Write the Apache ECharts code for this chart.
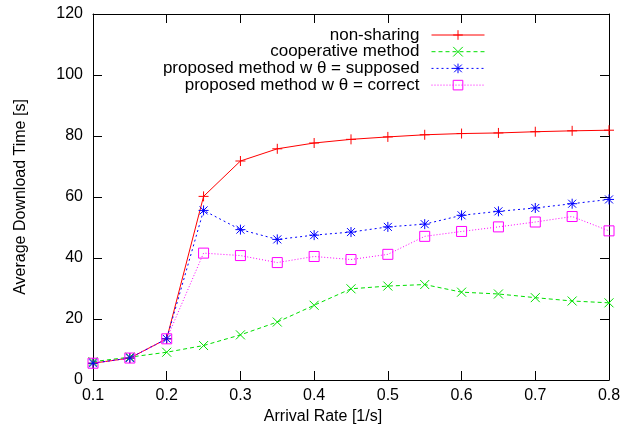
<!DOCTYPE html>
<html>
<head>
<meta charset="utf-8">
<script src="https://cdn.jsdelivr.net/npm/echarts@6/dist/echarts.min.js"></script>
<style>
html,body{margin:0;padding:0;background:#fff;}
#chart{width:638px;height:436px;}
</style>
</head>
<body>
<div id="chart"></div>
<script>
const arrivalRates = [0.1, 0.15, 0.2, 0.25, 0.3, 0.35, 0.4, 0.45, 0.5, 0.55, 0.6, 0.65, 0.7, 0.75, 0.8];
const nonSharing   = [5.5, 7.2, 13.5, 60.2, 71.8, 75.8, 77.7, 78.9, 79.7, 80.4, 80.8, 81.0, 81.4, 81.7, 81.9];
const cooperative  = [6.0, 7.5, 9.1, 11.3, 14.8, 19.0, 24.5, 29.9, 30.8, 31.3, 28.8, 28.2, 27.0, 25.9, 25.3];
const propSupposed = [5.5, 7.2, 13.5, 55.6, 49.3, 46.1, 47.5, 48.5, 50.2, 51.1, 54.0, 55.3, 56.4, 57.8, 59.2];
const propCorrect  = [5.5, 7.2, 13.5, 41.6, 40.8, 38.5, 40.5, 39.5, 41.2, 47.1, 48.7, 50.2, 51.8, 53.6, 48.9];
const seriesNames = ['non-sharing', 'cooperative method', 'proposed method w θ = supposed', 'proposed method w θ = correct'];
const yTicks = [0, 20, 40, 60, 80, 100, 120];
const xTicks = [0.1, 0.2, 0.3, 0.4, 0.5, 0.6, 0.7, 0.8];

const FONT = 'Liberation Sans, Arial, Helvetica, sans-serif';
const SYM_PLUS = 'path://M0,5L10,5M5,0L5,10';
const SYM_CROSS = 'path://M0,0L10,10M0,10L10,0';
const SYM_STAR = 'path://M0,5L10,5M5,0L5,10M1,1L9,9M1,9L9,1';
const SYM_SQUARE = 'path://M0,0L10,0L10,10L0,10Z';

function pairs(vals) { return arrivalRates.map((x, i) => [x, vals[i]]); }

function mkSeries(name, vals, color, symbol, size, dash) {
  return {
    name: name,
    type: 'line',
    data: pairs(vals),
    symbol: symbol,
    symbolSize: size,
    showAllSymbol: true,
    lineStyle: { color: color, width: 1, type: dash },
    itemStyle: { color: symbol === SYM_SQUARE ? 'rgba(0,0,0,0)' : color, borderColor: color, borderWidth: 1 },
    emphasis: { disabled: true },
    z: 2
  };
}

const axisCommon = {
  type: 'value',
  axisLine: { show: true, onZero: false, lineStyle: { color: '#000', width: 1 } },
  axisTick: { show: true, inside: true, length: 9, lineStyle: { color: '#000', width: 1 } },
  splitLine: { show: false }
};

const chart = echarts.init(document.getElementById('chart'), null, { renderer: 'canvas' });
chart.setOption({
  animation: false,
  backgroundColor: '#fff',
  textStyle: { fontFamily: FONT },
  grid: { left: 93, right: 29, top: 14, bottom: 56, containLabel: false },
  xAxis: [
    Object.assign({}, axisCommon, {
      position: 'bottom', min: xTicks[0], max: xTicks[xTicks.length - 1], interval: 0.1,
      name: 'Arrival Rate [1/s]', nameLocation: 'middle', nameGap: 28,
      nameTextStyle: { fontFamily: FONT, fontSize: 16, color: '#000', padding: [0, 56, 0, 0] },
      axisLabel: { fontFamily: FONT, fontSize: 16, color: '#000', margin: 8,
        formatter: v => v.toFixed(1) }
    }),
    Object.assign({}, axisCommon, {
      position: 'top', min: xTicks[0], max: xTicks[xTicks.length - 1], interval: 0.1,
      axisLabel: { show: false }
    })
  ],
  yAxis: [
    Object.assign({}, axisCommon, {
      position: 'left', min: yTicks[0], max: yTicks[yTicks.length - 1], interval: 20,
      name: 'Average Download Time [s]', nameLocation: 'middle', nameGap: 64, nameRotate: 90,
      nameTextStyle: { fontFamily: FONT, fontSize: 16, color: '#000' },
      axisLabel: { fontFamily: FONT, fontSize: 16, color: '#000', margin: 10 }
    }),
    Object.assign({}, axisCommon, {
      position: 'right', min: yTicks[0], max: yTicks[yTicks.length - 1], interval: 20,
      axisLabel: { show: false }
    })
  ],
  legend: {
    orient: 'vertical',
    align: 'right',
    right: 153,
    top: 26.5,
    padding: 0,
    itemWidth: 53,
    itemHeight: 12,
    itemGap: -0.3,
    selectedMode: false,
    textStyle: { fontFamily: FONT, fontSize: 17, color: '#000', lineHeight: 12, padding: [0, 7, 0, 0] },
    itemStyle: { borderWidth: 1 },
    lineStyle: { width: 1 },
    data: seriesNames
  },
  series: [
    mkSeries(seriesNames[0], nonSharing, '#ff0000', SYM_PLUS, 10, 'solid'),
    mkSeries(seriesNames[1], cooperative, '#00e000', SYM_CROSS, 9, [4, 3]),
    mkSeries(seriesNames[2], propSupposed, '#0000ff', SYM_STAR, 10, [2, 3]),
    mkSeries(seriesNames[3], propCorrect, '#ff00ff', SYM_SQUARE, 10, [1, 2])
  ]
});
</script>
</body>
</html>
